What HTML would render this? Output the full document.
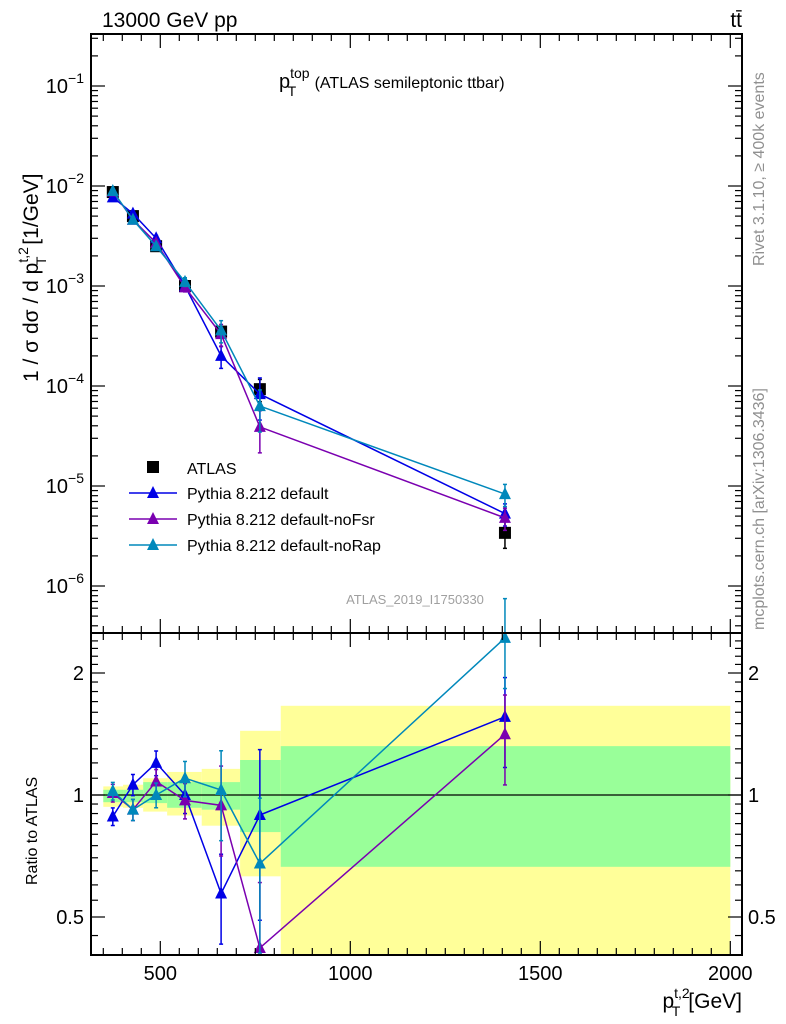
<!DOCTYPE html>
<html><head><meta charset="utf-8"><style>
body{margin:0;background:#fff}
svg{font-family:"Liberation Sans",sans-serif;display:block}
</style></head><body>
<svg id="c" width="786" height="1024" viewBox="0 0 786 1024">
<g id="bands"></g><g id="grid"></g><g id="marks"></g><g id="axes"></g>
<text x="102" y="27" font-size="21">13000 GeV pp</text>
<text x="742" y="27" font-size="21" text-anchor="end">tt̄</text>
<text x="279" y="88" font-size="20">p<tspan font-size="14" dy="-10">top</tspan><tspan font-size="14" dx="-22" dy="18">T</tspan><tspan font-size="16" dx="14" dy="-8"> (ATLAS semileptonic ttbar)</tspan></text>
<text x="415" y="604" font-size="13" fill="#a0a0a0" text-anchor="middle">ATLAS_2019_I1750330</text>
<text transform="translate(764,266) rotate(-90)" font-size="16" fill="#909090">Rivet 3.1.10, ≥ 400k events</text>
<text transform="translate(764,630) rotate(-90)" font-size="16" fill="#909090">mcplots.cern.ch [arXiv:1306.3436]</text>
<text transform="translate(38,382) rotate(-90)" font-size="21">1 / σ dσ / d p<tspan font-size="14" dy="-10">t,2</tspan><tspan font-size="14" dx="-18" dy="18">T</tspan><tspan dy="-8" dx="6"> [1/GeV]</tspan></text>
<text transform="translate(37,885) rotate(-90)" font-size="16">Ratio to ATLAS</text>
<text x="742" y="1008" font-size="21" text-anchor="end"><tspan>p</tspan><tspan font-size="14" dy="-10">t,2</tspan><tspan font-size="14" dx="-18" dy="18">T</tspan><tspan dy="-8" dx="8">[GeV]</tspan></text>
<g id="legend"></g>
</svg>
<script>
const xVals=[375,428,489,565,660,762,1407];
const atlas=[8.7e-3,5.0e-3,2.5e-3,1.0e-3,3.5e-4,9.3e-5,3.4e-6];
const atlasErr=[0.05,0.05,0.06,0.08,0.12,0.25,0.3];
const pyDefault=[7.7e-3,5.3e-3,3.0e-3,1.0e-3,2.0e-4,8.3e-5,5.3e-6];
const pyNoFsr=[8.8e-3,4.6e-3,2.7e-3,0.97e-3,3.3e-4,3.9e-5,4.8e-6];
const pyNoRap=[8.9e-3,4.6e-3,2.5e-3,1.1e-3,3.6e-4,6.3e-5,8.3e-6];
const mcErr=[0.05,0.06,0.07,0.1,0.25,0.45,0.25];
const binEdges=[350,402,455,518,609,710,817,2000];
const yellowHi=[1.05,1.06,1.10,1.14,1.16,1.44,1.66];
const yellowLo=[0.935,0.93,0.91,0.89,0.84,0.63,0.38];
const greenHi=[1.03,1.03,1.076,1.076,1.076,1.22,1.32];
const greenLo=[0.96,0.96,0.955,0.93,0.92,0.81,0.665];
const xTicks=[500,1000,1500,2000];
const yTicks=[-6,-5,-4,-3,-2,-1];
const rTicks=[0.5,1,2];
const NS="http://www.w3.org/2000/svg";
const L=91,R=742,T=34,MB=633,RB=955;
const X=v=>160.3+(v-500)*0.38;
const Y=v=>186-100*(Math.log10(v)+2);
const YR=r=>795-122*Math.log2(r);
function mk(p,t,a){const e=document.createElementNS(NS,t);for(const k in a)e.setAttribute(k,a[k]);document.getElementById(p).appendChild(e);return e;}
for(let i=0;i<yellowHi.length;i++){
 const x0=X(binEdges[i]),x1=X(binEdges[i+1]);
 let e=mk('bands','rect',{x:x0,y:YR(yellowHi[i]),width:x1-x0,height:Math.min(RB,YR(yellowLo[i]))-YR(yellowHi[i]),fill:'#ffff99'});
 
 
 e=mk('bands','rect',{x:x0,y:YR(greenHi[i]),width:x1-x0,height:YR(greenLo[i])-YR(greenHi[i]),fill:'#99ff99'});
 
 
}
mk('grid','line',{x1:L,x2:R,y1:795,y2:795,stroke:'#000','stroke-width':1.2});
const series=[{d:pyDefault,c:'#0000e6',n:'Pythia 8.212 default',k:'default'},{d:pyNoFsr,c:'#7a00b0',n:'Pythia 8.212 default-noFsr',k:'nofsr'},{d:pyNoRap,c:'#0088bb',n:'Pythia 8.212 default-noRap',k:'norap'}];
function tri(x,y,c,nm){const e=mk('marks','polygon',{points:`${x},${y-7} ${x-6},${y+5} ${x+6},${y+5}`,fill:c});return e;}
function ebar(x,y1,y2,c){mk('marks','line',{x1:x,x2:x,y1:y1,y2:y2,stroke:c,'stroke-width':1.5});
 mk('marks','line',{x1:x-2,x2:x+2,y1:y1,y2:y1,stroke:c,'stroke-width':1.5});
 mk('marks','line',{x1:x-2,x2:x+2,y1:y2,y2:y2,stroke:c,'stroke-width':1.5});}
atlas.forEach((v,i)=>{const x=X(xVals[i]);
 ebar(x,Y(v*(1+atlasErr[i])),Y(v*(1-atlasErr[i])),'#000');
 const e=mk('marks','rect',{x:x-6,y:Y(v)-6,width:12,height:12,fill:'#000'});
 
 });
series.forEach(s=>{
 const pts=s.d.map((v,i)=>X(xVals[i])+','+Y(v)).join(' ');
 let pl=mk('marks','polyline',{points:pts,fill:'none',stroke:s.c,'stroke-width':1.5});
 
 
 const rp=s.d.map((v,i)=>X(xVals[i])+','+YR(v/atlas[i])).join(' ');
 pl=mk('marks','polyline',{points:rp,fill:'none',stroke:s.c,'stroke-width':1.5});
 
 
 s.d.forEach((v,i)=>{const x=X(xVals[i]);const e=mcErr[i];
  ebar(x,Y(v*(1+e)),Y(v*(1-e)),s.c);
  const r=v/atlas[i];
  ebar(x,Math.max(T+2,YR(r*(1+e))),Math.min(RB-2,YR(r*(1-e))),s.c);
  tri(x,Y(v),s.c,'point-'+s.k);
  tri(x,Math.min(RB-4,YR(r)),s.c,'ratio-point-'+s.k);
 });
});
mk('axes','rect',{x:L,y:T,width:R-L,height:MB-T,fill:'none',stroke:'#000','stroke-width':2});
mk('axes','rect',{x:L,y:MB,width:R-L,height:RB-MB,fill:'none',stroke:'#000','stroke-width':2});
for(let v=350;v<=2000;v+=50){const x=X(v);const big=v%500==0;const h=big?14:7;
 [[T,1],[MB,-1],[MB,1],[RB,-1]].forEach(([y,d])=>mk('axes','line',{x1:x,x2:x,y1:y,y2:y+d*h,stroke:'#000','stroke-width':1.2}));}
xTicks.forEach(v=>{const e=mk('axes','text',{x:X(v),y:980,'font-size':20,'text-anchor':'middle'});e.textContent=v;
 
 });
for(let d=-7;d<=0;d++)for(let m=1;m<10;m++){const v=m*Math.pow(10,d);const y=Y(v);if(y<T||y>MB)continue;const h=m==1?14:7;
 mk('axes','line',{x1:L,x2:L+h,y1:y,y2:y,stroke:'#000','stroke-width':1.2});
 mk('axes','line',{x1:R,x2:R-h,y1:y,y2:y,stroke:'#000','stroke-width':1.2});}
yTicks.forEach(p=>{const e=mk('axes','text',{x:84,y:Y(Math.pow(10,p))+7,'font-size':20,'text-anchor':'end'});
 e.innerHTML='10<tspan font-size="14" dy="-10">'+(p<0?'−':'')+Math.abs(p)+'</tspan>';
 
 });
for(let r=0.4;r<=2.5;r+=(r<1?0.05:0.1)){const y=YR(r);if(y<MB||y>RB)continue;const big=[0.5,1,2].some(t=>Math.abs(t-r)<1e-6);const h=big?14:7;
 mk('axes','line',{x1:L,x2:L+h,y1:y,y2:y,stroke:'#000','stroke-width':1.2});
 mk('axes','line',{x1:R,x2:R-h,y1:y,y2:y,stroke:'#000','stroke-width':1.2});}
rTicks.forEach(r=>{[[84,'end'],[748,'start']].forEach(([x,a])=>{const e=mk('axes','text',{x:x,y:YR(r)+7,'font-size':20,'text-anchor':a});e.textContent=r;
 
 });});
let e=mk('legend','rect',{x:147,y:461,width:12,height:12,fill:'#000'});


e=mk('legend','text',{x:187,y:474,'font-size':16});e.textContent='ATLAS';


series.forEach((s,i)=>{const y=493+26*i;
 mk('legend','line',{x1:129,x2:177,y1:y,y2:y,stroke:s.c,'stroke-width':1.5});
 const t=mk('legend','polygon',{points:`153,${y-7} 147,${y+5} 159,${y+5}`,fill:s.c});
 
 
 const tx=mk('legend','text',{x:187,y:y+6,'font-size':16});tx.textContent=s.n;
 
 });
</script>
</body></html>
